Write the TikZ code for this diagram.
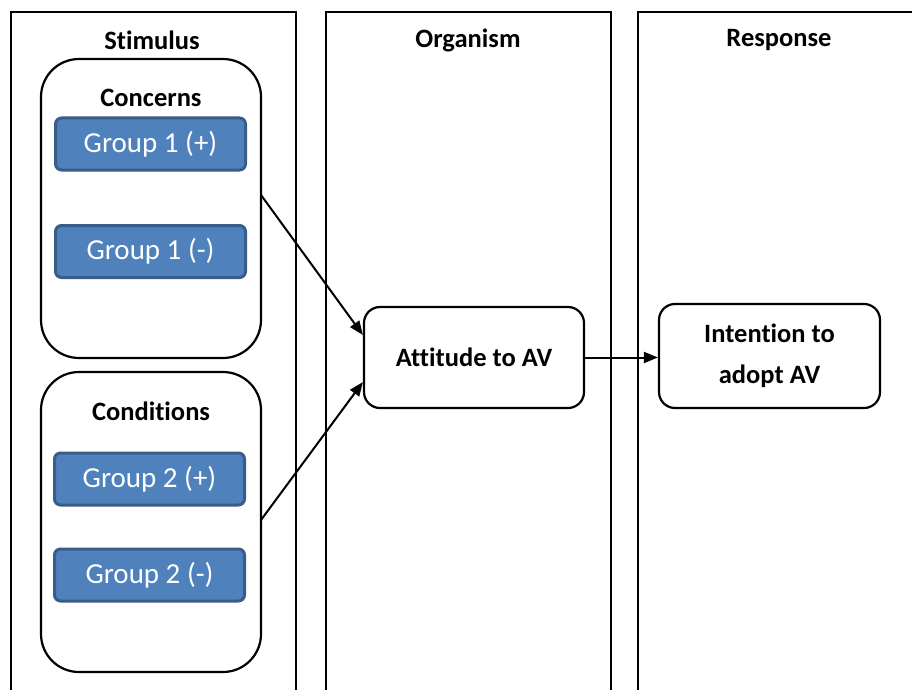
\documentclass[tikz,border=0pt]{standalone}
\usepackage{fontspec}
\setmainfont[Ligatures={NoCommon}]{Carlito}
\usetikzlibrary{arrows.meta}
\definecolor{grpfill}{HTML}{4F81BD}
\definecolor{grpdraw}{HTML}{385D8A}
\tikzset{
  panel/.style={draw=black, line width=2pt},
  title/.style={font=\bfseries\fontsize{26.5}{32}\selectfont, anchor=center},
  outerbox/.style={draw=black, line width=2.2pt, rounded corners=38pt},
  groupbox/.style={draw=grpdraw, fill=grpfill, line width=3pt, rounded corners=6pt,
    text=white, font=\fontsize{29}{34}\selectfont, minimum width=190pt, minimum height=52pt, inner sep=0pt},
  varbox/.style={draw=black, line width=2.2pt, rounded corners=16pt, align=center,
    font=\bfseries\fontsize{26.5}{41}\selectfont, minimum width=220pt, inner sep=0pt},
  conn/.style={line width=2pt, -{Triangle[length=14pt,width=11pt]}}
}
\begin{document}
\begin{tikzpicture}[x=1pt,y=-1pt]
\useasboundingbox (0,0) rectangle (912,690);
\clip (0,0) rectangle (912,690);
% panels
\draw[panel] (11,700) -- (11,12) -- (296,12) -- (296,700);
\draw[panel] (326,700) -- (326,12) -- (611,12) -- (611,700);
\draw[panel] (638,700) -- (638,12) -- (930,12);
\node[title] (tS) at (152,40) {Stimulus};
\node[title] (tO) at (468,40) {Organism};
\node[title] (tR) at (779,40) {Response};
% outer boxes
\draw[outerbox] (41,59) rectangle (261,358);
\coordinate (concR) at (261,195);
\node[title] (tC) at (151,98) {Concerns};
\draw[outerbox] (41,372) rectangle (261,672);
\coordinate (condR) at (261,520);
\node[title] (tD) at (151,411) {Conditions};
% groups
\node[groupbox] (g1p) at (150.5,144) {Group 1 (+)};
\node[groupbox] (g1m) at (150.5,251.5) {Group 1 (-)};
\node[groupbox] (g2p) at (149.5,479) {Group 2 (+)};
\node[groupbox] (g2m) at (149.5,575) {Group 2 (-)};
% variables
\node[varbox, minimum height=101pt] (att) at (474,357.5) {Attitude to AV};
\node[varbox, minimum height=104pt, minimum width=221pt] (int) at (769.5,356) {Intention to\\adopt AV};
% connectors
\draw[conn] (concR) -- (att.west |- 0,335);
\draw[conn] (condR) -- (att.west |- 0,382);
\draw[conn] (att.east) -- (int.west |- att.east);
\end{tikzpicture}
\end{document}
